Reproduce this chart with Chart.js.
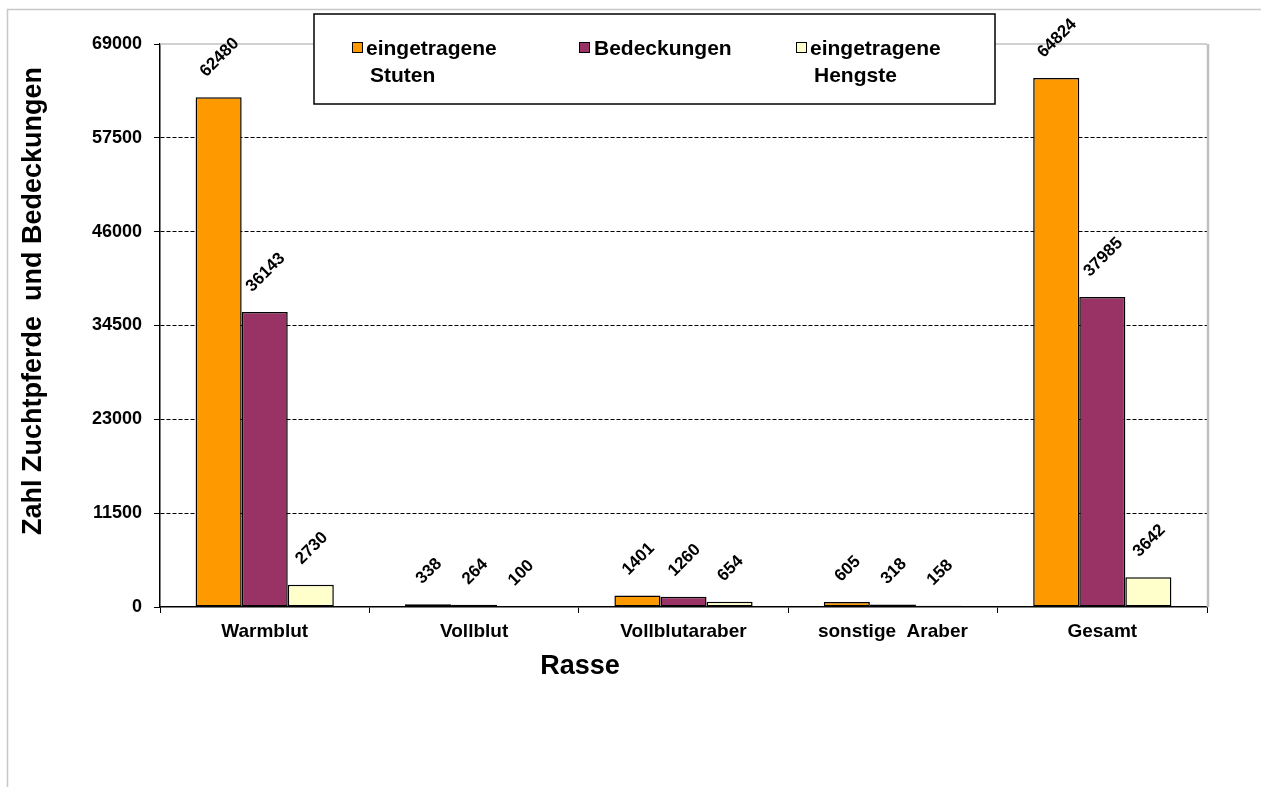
<!DOCTYPE html>
<html>
<head>
<meta charset="utf-8">
<script src="https://cdn.jsdelivr.net/npm/chart.js@4"></script>
<style>
  html, body { margin: 0; padding: 0; background: #fff; }
  #wrap { width: 1261px; height: 787px; position: relative; }
</style>
</head>
<body>
<div id="wrap"><canvas id="chart" width="1261" height="787"></canvas></div>
<script>
// data
var categories = ['Warmblut', 'Vollblut', 'Vollblutaraber', 'sonstige  Araber', 'Gesamt'];
var seriesNames = [['eingetragene', 'Stuten'], ['Bedeckungen'], ['eingetragene', 'Hengste']];
var stuten = [62480, 338, 1401, 605, 64824];
var bedeckungen = [36143, 264, 1260, 318, 37985];
var hengste = [2730, 100, 654, 158, 3642];
var yTicks = [0, 11500, 23000, 34500, 46000, 57500, 69000];
var yTitle = 'Zahl Zuchtpferde  und Bedeckungen';
var xTitle = 'Rasse';

var colors = ['#FF9900', '#993366', '#FFFFCC'];
var FONT = '"Liberation Sans", Arial, sans-serif';

var decor = {
  id: 'decor',
  beforeDraw: function (chart) {
    var ctx = chart.ctx;
    ctx.save();
    ctx.fillStyle = '#fff';
    ctx.fillRect(0, 0, chart.width, chart.height);
    // page frame
    ctx.strokeStyle = '#c8c8c8';
    ctx.lineWidth = 1.5;
    ctx.beginPath();
    ctx.moveTo(7.5, chart.height);
    ctx.lineTo(7.5, 9.5);
    ctx.lineTo(chart.width, 9.5);
    ctx.stroke();
    ctx.restore();
  },
  beforeDatasetsDraw: function (chart) {
    var ctx = chart.ctx, a = chart.chartArea;
    ctx.save();
    ctx.strokeStyle = '#c0c0c0';
    ctx.lineWidth = 1.5;
    ctx.beginPath();
    ctx.moveTo(a.left, a.top);
    ctx.lineTo(a.right, a.top);
    ctx.stroke();
    ctx.lineWidth = 2.5;
    ctx.beginPath();
    ctx.moveTo(a.right + 1, a.top);
    ctx.lineTo(a.right + 1, a.bottom);
    ctx.stroke();
    ctx.restore();
  },
  afterDraw: function (chart) {
    var ctx = chart.ctx, a = chart.chartArea;
    ctx.save();
    // value labels, turned 45 degrees
    ctx.fillStyle = '#000';
    ctx.font = 'bold 17px ' + FONT;
    ctx.textAlign = 'center';
    ctx.textBaseline = 'middle';
    chart.data.datasets.forEach(function (ds, i) {
      chart.getDatasetMeta(i).data.forEach(function (bar, j) {
        var txt = String(ds.data[j]);
        var w = ctx.measureText(txt).width;
        ctx.save();
        ctx.translate(bar.x + 1, bar.y - 23 - w * 0.354);
        ctx.rotate(-Math.PI / 4);
        ctx.fillText(txt, 0, 0);
        ctx.restore();
      });
    });

    // axis titles
    ctx.font = 'bold 27px ' + FONT;
    ctx.save();
    ctx.translate(34, 301);
    ctx.rotate(-Math.PI / 2);
    ctx.fillText(yTitle, 0, 0);
    ctx.restore();
    ctx.fillText(xTitle, 580, 667);

    // legend box
    ctx.fillStyle = '#fff';
    ctx.fillRect(314, 14, 681, 90);
    ctx.strokeStyle = '#000';
    ctx.lineWidth = 1.5;
    ctx.strokeRect(314, 14, 681, 90);
    var boxX = [352, 579, 796];
    var textX = [366, 594, 810];
    ctx.font = 'bold 21px ' + FONT;
    ctx.textAlign = 'left';
    for (var k = 0; k < seriesNames.length; k++) {
      ctx.fillStyle = colors[k];
      ctx.fillRect(boxX[k], 42, 11, 11);
      ctx.lineWidth = 1;
      ctx.strokeRect(boxX[k] + 0.5, 42.5, 10, 10);
      ctx.fillStyle = '#000';
      for (var l = 0; l < seriesNames[k].length; l++) {
        ctx.fillText(seriesNames[k][l], textX[k] + (l > 0 ? 4 : 0), 49 + l * 27);
      }
    }
    ctx.restore();
  }
};

var chart = new Chart(document.getElementById('chart'), {
  type: 'bar',
  data: {
    labels: categories,
    datasets: [
      { label: seriesNames[0].join(' '), data: stuten, backgroundColor: colors[0] },
      { label: seriesNames[1].join(' '), data: bedeckungen, backgroundColor: colors[1] },
      { label: seriesNames[2].join(' '), data: hengste, backgroundColor: colors[2] }
    ]
  },
  options: {
    responsive: false,
    animation: false,
    devicePixelRatio: 1,
    layout: { padding: { left: 0, right: 54, top: 44, bottom: 0 } },
    datasets: {
      bar: {
        borderColor: '#000',
        borderWidth: 1.5,
        borderSkipped: false,
        categoryPercentage: 0.66,
        barPercentage: 1.0
      }
    },
    plugins: {
      legend: { display: false },
      tooltip: { enabled: false }
    },
    scales: {
      x: {
        afterFit: function (s) { s.height = 180; },
        grid: {
          drawOnChartArea: false,
          drawTicks: true,
          tickLength: 6,
          tickColor: '#000',
          offset: true
        },
        border: { display: true, color: '#000', width: 1.5 },
        ticks: {
          color: '#000',
          padding: 7,
          font: { family: FONT, size: 19, weight: 'bold' }
        }
      },
      y: {
        min: 0,
        max: 69000,
        afterFit: function (s) { s.width = 160; },
        afterBuildTicks: function (s) {
          s.ticks = yTicks.map(function (v) { return { value: v }; });
        },
        grid: {
          color: function (c) {
            return (c.tick && (c.tick.value === 0 || c.tick.value === 69000)) ? 'rgba(0,0,0,0)' : '#000';
          },
          lineWidth: 1,
          tickLength: 6,
          tickColor: '#000'
        },
        border: { display: true, color: '#000', width: 1.5, dash: [4, 2] },
        ticks: {
          color: '#000',
          padding: 12,
          font: { family: FONT, size: 18, weight: 'bold' },
          callback: function (v) { return String(v); }
        }
      }
    }
  },
  plugins: [decor]
});
</script>
</body>
</html>
